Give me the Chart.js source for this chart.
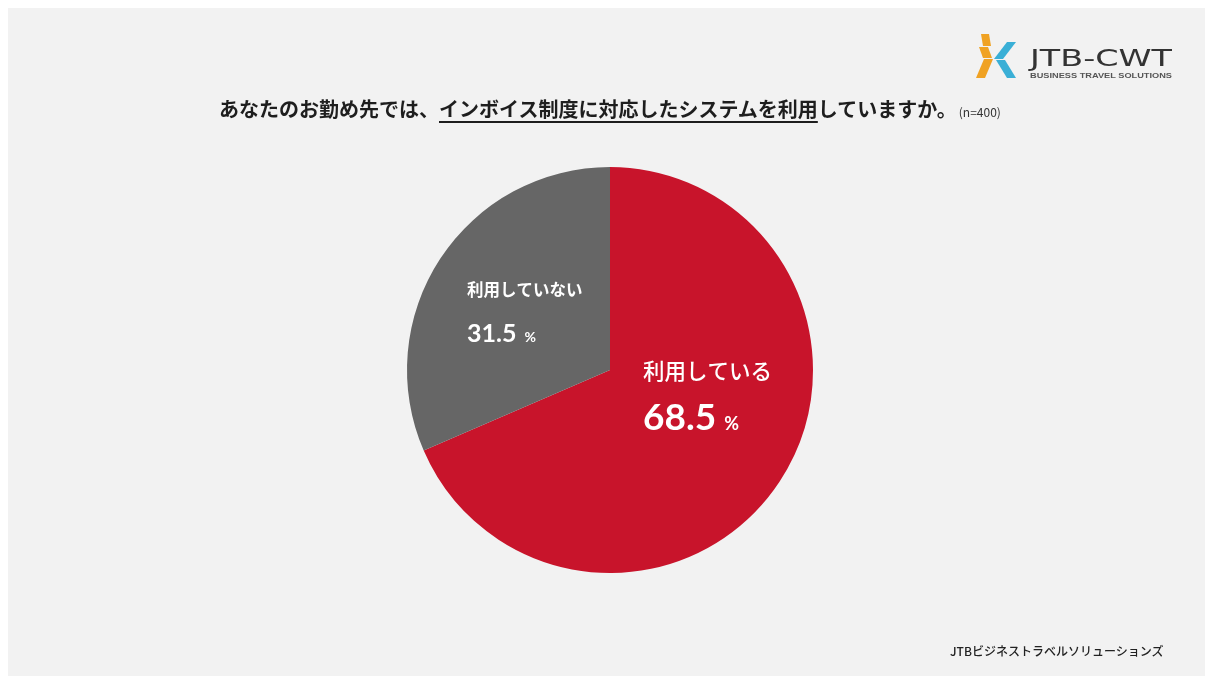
<!DOCTYPE html>
<html lang="ja">
<head>
<meta charset="utf-8">
<title>インボイス制度に対応したシステムの利用状況</title>
<script src="https://cdn.jsdelivr.net/npm/chart.js@4.4.0/dist/chart.umd.min.js"></script>
<style>
  html, body { margin: 0; padding: 0; background: #fff; }
  body { width: 1209px; height: 680px; position: relative; overflow: hidden;
         font-family: "Noto Sans CJK JP", "Noto Sans", sans-serif; }
  #panel { position: absolute; left: 8px; top: 8px; right: 4px; bottom: 4px; background: #f2f2f2; }
  #chart-box { position: absolute; left: 0; top: 0; width: 1209px; height: 680px; }
  #title { position: absolute; left: 219px; top: 95px; white-space: nowrap;
           font-size: 20px; font-weight: 700; line-height: 28px; color: #1e1e1e; }
  #title u { text-decoration-thickness: 1.5px; text-underline-offset: 4px; }
  #title small { font-size: 12px; font-weight: 400; color: #333; margin-left: 2px; }
  #footer { position: absolute; left: 950px; top: 642px; font-size: 12px; font-weight: 500;
            color: #222; white-space: nowrap; }
  #logo { position: absolute; left: 960px; top: 28px; }
</style>
</head>
<body>
<div id="panel"></div>
<div id="chart-box"><canvas id="pie"></canvas></div>

<div id="title">あなたのお勤め先では、<u>インボイス制度に対応したシステムを利用</u>していますか。<small>(n=400)</small></div>

<svg id="logo" width="230" height="60" viewBox="960 28 230 60">
  <g fill="#f0a223">
    <polygon points="981,34 989,34 991,46 983,46"/>
    <polygon points="979,47 988,47 992,58 983,58"/>
    <polygon points="984,59 993,59 985,78 976,78"/>
  </g>
  <g fill="#3aafd6">
    <polygon points="1007,42 1016,42 1003,59 994,59"/>
    <polygon points="996,60 1005,60 1016,78 1007,78"/>
  </g>
  <text x="1030" y="66" font-family="DejaVu Sans, Liberation Sans, sans-serif" font-size="23" fill="#333"
        textLength="142" lengthAdjust="spacingAndGlyphs">JTB-CWT</text>
  <text x="1030" y="77.5" font-family="Liberation Sans, Arial, sans-serif" font-size="7" font-weight="700"
        fill="#555" textLength="142" lengthAdjust="spacingAndGlyphs">BUSINESS TRAVEL SOLUTIONS</text>
</svg>

<div id="footer">JTBビジネストラベルソリューションズ</div>

<script>
// --- data ---
const categories = ['利用している', '利用していない'];
const shares = [68.5, 31.5];

// label placement, relative to the pie centre in units of its radius
const labelPlaces = [
  { dx: 0.163, nameDy: 0.005, numDy: 0.296, nameFont: '500 21.5px "Noto Sans CJK JP"',
    numFont: '700 37px Lato', pctFont: '700 18px Lato', gap: 8 },
  { dx: -0.704, nameDy: -0.394, numDy: -0.138, nameFont: '700 16.5px "Noto Sans CJK JP"',
    numFont: '700 25px Lato', pctFont: '700 14px Lato', gap: 8 }
];

const sliceLabels = {
  id: 'sliceLabels',
  afterDatasetsDraw(chart) {
    const ctx = chart.ctx;
    const meta = chart.getDatasetMeta(0);
    meta.data.forEach((arc, i) => {
      const p = labelPlaces[i];
      const r = arc.outerRadius;
      const x = arc.x + p.dx * r;
      ctx.save();
      ctx.fillStyle = '#ffffff';
      ctx.textAlign = 'left';

      ctx.font = p.nameFont;
      ctx.textBaseline = 'middle';
      ctx.fillText(categories[i], x, arc.y + p.nameDy * r);

      const num = shares[i].toFixed(1);
      const yb = arc.y + p.numDy * r;
      ctx.font = p.numFont;
      ctx.textBaseline = 'alphabetic';
      ctx.fillText(num, x, yb);
      const w = ctx.measureText(num).width;
      ctx.font = p.pctFont;
      ctx.fillText('%', x + w + p.gap, yb);
      ctx.restore();
    });
  }
};

const ctx = document.getElementById('pie').getContext('2d');
new Chart(ctx, {
  type: 'pie',
  data: {
    labels: categories,
    datasets: [{
      data: shares,
      backgroundColor: ['#c8142b', '#666666'],
      borderWidth: 0,
      hoverOffset: 0
    }]
  },
  options: {
    responsive: true,
    maintainAspectRatio: false,
    animation: false,
    events: [],
    layout: { padding: { top: 167, bottom: 107, left: 407, right: 396 } },
    plugins: {
      legend: { display: false },
      tooltip: { enabled: false }
    }
  },
  plugins: [sliceLabels]
});
</script>
</body>
</html>
